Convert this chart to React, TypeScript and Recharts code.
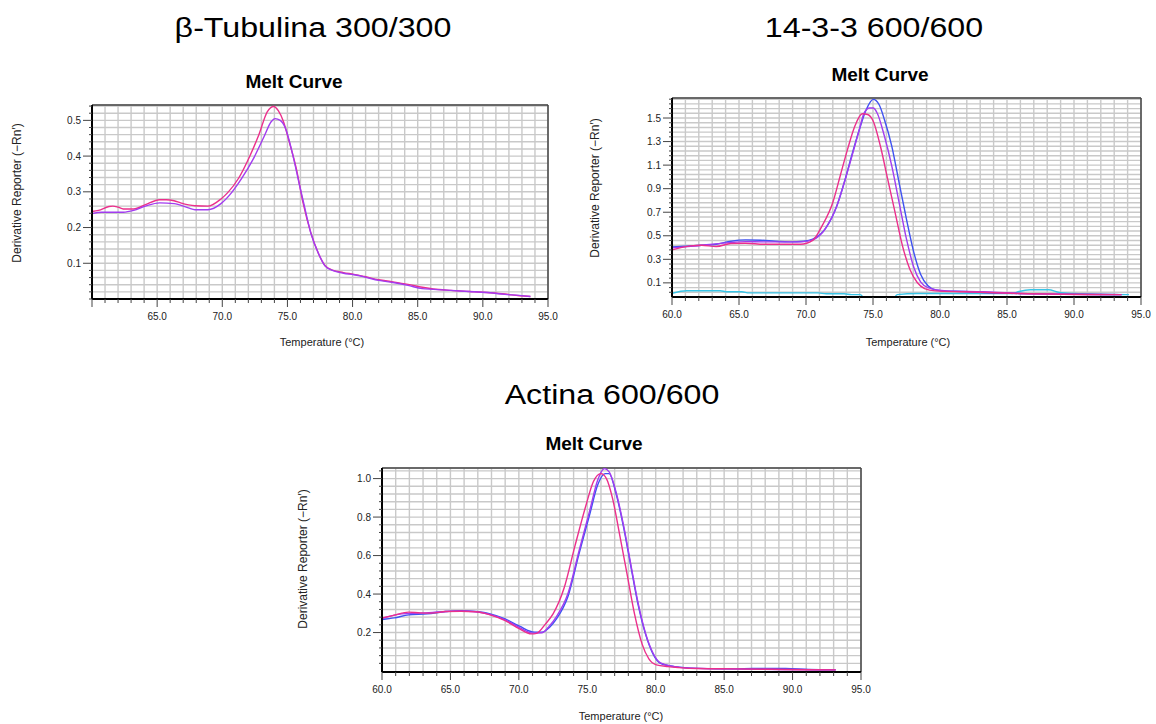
import React from 'react';
import { LineChart, Line, XAxis, YAxis, CartesianGrid, ReferenceLine } from 'recharts';

type Pt = [number, number];

// ---------- β-Tubulina 300/300 ----------
const tubPink: Pt[] = [
  [60, 0.245], [60.5, 0.248], [61.3, 0.259], [61.6, 0.26], [62, 0.257], [62.4, 0.252], [63.2, 0.252],
  [64.1, 0.264], [65.2, 0.278], [65.7, 0.278], [66.3, 0.275], [66.8, 0.269], [67.9, 0.261], [68.9, 0.26],
  [69.9, 0.28], [70.4, 0.297], [71.25, 0.338], [72.1, 0.399], [72.8, 0.459], [73.45, 0.524], [73.95, 0.539],
  [74.3, 0.527], [74.7, 0.496], [75.1, 0.445], [75.7, 0.362], [76.2, 0.269], [76.8, 0.185], [77.35, 0.13],
  [77.9, 0.093], [78.45, 0.081], [79.3, 0.074], [80.1, 0.069], [80.9, 0.063], [82, 0.054], [83.1, 0.048],
  [84.25, 0.041], [85.35, 0.033], [86.2, 0.028], [87.55, 0.024], [88.95, 0.021], [90.3, 0.018], [91.7, 0.014],
  [92.8, 0.009], [93.65, 0.007],
];
const tubPurple: Pt[] = [
  [60, 0.239], [60.75, 0.243], [62.4, 0.243], [63.2, 0.248], [64.1, 0.26], [65.2, 0.269], [66.3, 0.267],
  [67.4, 0.255], [67.9, 0.25], [68.9, 0.25], [69.9, 0.267], [70.7, 0.297], [71.5, 0.338], [72.35, 0.39],
  [73.2, 0.454], [73.75, 0.496], [74.05, 0.505], [74.45, 0.5], [74.85, 0.478], [75.4, 0.405], [75.95, 0.315],
  [76.25, 0.268], [76.8, 0.184], [77.35, 0.13], [77.9, 0.092], [78.45, 0.08], [79.3, 0.072], [80.1, 0.068],
  [80.9, 0.062], [82, 0.052], [83.1, 0.046], [84.25, 0.038], [85.35, 0.029], [86.2, 0.027], [87.55, 0.024],
  [88.95, 0.021], [90.3, 0.018], [91.7, 0.013], [92.8, 0.01], [93.65, 0.007],
];

// ---------- 14-3-3 600/600 ----------
const p14Blue: Pt[] = [
  [60, 0.405], [61.4, 0.414], [62.2, 0.42], [63.3, 0.428], [64.4, 0.454], [65.5, 0.465], [66.6, 0.462],
  [67.7, 0.454], [68.75, 0.448], [69.85, 0.454], [70.5, 0.471], [71.5, 0.569], [72.3, 0.753], [72.85, 0.95],
  [73.4, 1.178], [73.95, 1.39], [74.5, 1.573], [75.02, 1.658], [75.45, 1.615], [75.85, 1.488], [76.4, 1.262],
  [76.95, 0.95], [77.5, 0.64], [78.05, 0.357], [78.55, 0.174], [79.1, 0.075], [79.65, 0.041], [80.5, 0.03],
  [81.8, 0.027], [83.2, 0.018], [85.9, 0.01], [88.65, 0.004], [93.55, 0.0],
];
const p14Purple: Pt[] = [
  [60, 0.397], [61.4, 0.41], [64.1, 0.44], [65.5, 0.45], [66.85, 0.448], [69.6, 0.448], [70.5, 0.465],
  [71.5, 0.569], [72.3, 0.753], [72.85, 0.95], [73.4, 1.164], [73.95, 1.39], [74.35, 1.545], [74.75, 1.585],
  [75.02, 1.585], [75.3, 1.545], [75.85, 1.347], [76.4, 1.093], [76.95, 0.782], [77.5, 0.471], [78.05, 0.23],
  [78.55, 0.108], [79.1, 0.06], [80.5, 0.032], [83.2, 0.024], [85.9, 0.01], [93.55, 0.0],
];
const p14Pink: Pt[] = [
  [60, 0.38], [61.4, 0.414], [62.2, 0.42], [63.3, 0.409], [64.4, 0.434], [65.5, 0.437], [66.85, 0.428],
  [69.6, 0.428], [70.5, 0.461], [71.2, 0.584], [72.0, 0.782], [72.55, 1.008], [73.1, 1.234], [73.65, 1.432],
  [74.2, 1.536], [74.6, 1.53], [75.02, 1.473], [75.55, 1.262], [76.1, 0.979], [76.65, 0.697], [77.2, 0.414],
  [77.75, 0.216], [78.3, 0.103], [78.85, 0.052], [79.65, 0.032], [81.8, 0.024], [85.9, 0.01], [93.55, 0.0],
];
const p14Cyan: Pt[] = [
  [60, 0.012], [61.1, 0.033], [63.6, 0.033], [64.1, 0.024], [65.2, 0.024], [65.75, 0.015], [70.9, 0.015],
  [71.5, 0.007], [72.85, 0.007], [73.4, 0.0], [74.05, 0.0], [74.4, -0.035], [76.5, -0.035], [76.8, 0.0],
  [78.3, 0.01], [85.4, 0.01], [85.9, 0.027], [86.75, 0.041], [88.1, 0.041], [88.9, 0.018], [90.0, 0.01],
  [94.1, 0.0],
];

// ---------- Actina 600/600 ----------
const actPink: Pt[] = [
  [60, 0.276], [60.6, 0.285], [61.45, 0.301], [61.95, 0.306], [62.8, 0.302], [63.6, 0.301], [64.65, 0.309],
  [65.75, 0.311], [66.85, 0.308], [67.9, 0.292], [69.0, 0.262], [70.05, 0.219], [70.9, 0.193], [71.3, 0.196],
  [71.95, 0.245], [72.5, 0.297], [73.3, 0.43], [74.1, 0.65], [74.9, 0.86], [75.45, 0.985], [76.0, 1.026],
  [76.4, 1.0], [76.85, 0.896], [77.35, 0.714], [77.9, 0.506], [78.45, 0.297], [79.0, 0.141], [79.5, 0.063],
  [80.05, 0.032], [80.9, 0.023], [81.7, 0.018], [83.05, 0.013], [85.75, 0.011], [88.45, 0.009], [91.15, 0.007],
  [93.15, 0.006],
];
const actBlue: Pt[] = [
  [60, 0.268], [60.9, 0.276], [61.95, 0.292], [63.3, 0.297], [64.65, 0.309], [65.75, 0.314], [66.85, 0.309],
  [67.9, 0.297], [69.0, 0.271], [70.05, 0.233], [71.15, 0.202], [71.7, 0.202], [72.25, 0.228], [72.75, 0.271],
  [73.6, 0.39], [74.4, 0.61], [75.2, 0.82], [75.75, 0.965], [76.3, 1.026], [76.6, 1.026], [77.1, 0.922],
  [77.65, 0.748], [78.15, 0.557], [78.7, 0.349], [79.25, 0.193], [79.8, 0.089], [80.35, 0.04], [81.4, 0.023],
  [83.05, 0.014], [85.75, 0.011], [87.1, 0.013], [89.5, 0.013], [91.15, 0.008], [93.15, 0.006],
];
const actPurple: Pt[] = [
  [60, 0.273], [61.45, 0.297], [62.8, 0.301], [64.65, 0.309], [65.75, 0.312], [66.85, 0.308], [67.9, 0.294],
  [69.0, 0.266], [70.05, 0.226], [71.0, 0.197], [71.7, 0.199], [72.25, 0.236], [72.75, 0.283], [73.6, 0.405],
  [74.4, 0.625], [75.2, 0.84], [75.75, 0.99], [76.25, 1.052], [76.6, 1.035], [77.1, 0.93], [77.65, 0.757],
  [78.15, 0.566], [78.7, 0.358], [79.25, 0.198], [79.8, 0.094], [80.35, 0.042], [81.4, 0.023], [83.05, 0.014],
  [93.15, 0.006],
];

// ---------- axis ticks ----------
const X_GRID = [60, 61, 62, 63, 64, 65, 66, 67, 68, 69, 70, 71, 72, 73, 74, 75, 76, 77, 78, 79, 80, 81, 82, 83,
  84, 85, 86, 87, 88, 89, 90, 91, 92, 93, 94, 95];
const X_LABELS_ALL = [60, 65, 70, 75, 80, 85, 90, 95];
const X_LABELS_TUB = [65, 70, 75, 80, 85, 90, 95];

const steps = (start: number, step: number, count: number) =>
  Array.from({ length: count }, (_, i) => Math.round((start + i * step) * 1000) / 1000);

const Y_GRID_TUB = steps(0, 0.02, 28);
const Y_LABELS_TUB = [0.1, 0.2, 0.3, 0.4, 0.5];
const Y_GRID_P14 = steps(0.02, 0.04, 42);
const Y_LABELS_P14 = [0.1, 0.3, 0.5, 0.7, 0.9, 1.1, 1.3, 1.5];
const Y_GRID_ACT = steps(0.04, 0.04, 26);
const Y_LABELS_ACT = [0.2, 0.4, 0.6, 0.8, 1.0];

const PINK = '#ec2f8c';
const PURPLE = '#a23cf0';
const BLUE = '#3f52f2';
const CYAN = '#38c4e6';

const FONT = '"Liberation Sans", Arial, sans-serif';

const toData = (pts: Pt[]) => pts.map(([x, y]) => ({ x, y }));

type Series = { name: string; color: string; pts: Pt[] };

const has = (list: number[], v: number) => list.some((l) => Math.abs(l - v) < 1e-6);

function MeltChart(props: {
  left: number; top: number; plotW: number; plotH: number;
  yDomain: [number, number]; yGrid: number[]; yLabels: number[]; xLabels: number[];
  series: Series[];
}) {
  const { left, top, plotW, plotH, yDomain, yGrid, yLabels, xLabels, series } = props;
  const padL = 90, padT = 10, padR = 10, axisH = 40;
  const W = plotW + padL + padR;
  const H = plotH + padT + axisH;

  const renderXTick = (p: any) => {
    const v = p.payload.value;
    const major = v % 5 === 0;
    return (
      <g>
        <line x1={p.x} x2={p.x} y1={p.y} y2={p.y + (major ? 8 : 4)} stroke="#444" strokeWidth={1} />
        {has(xLabels, v) && (
          <text x={p.x} y={p.y + 21} textAnchor="middle" fontSize={10} fill="#222" fontFamily={FONT}>
            {v.toFixed(1)}
          </text>
        )}
      </g>
    );
  };
  const renderYTick = (p: any) => {
    const v = p.payload.value;
    const major = has(yLabels, v);
    return (
      <g>
        <line x1={p.x} x2={p.x - (major ? 9 : 3)} y1={p.y} y2={p.y} stroke="#444" strokeWidth={1} />
        {major && (
          <text x={p.x - 11} y={p.y + 3.5} textAnchor="end" fontSize={10} fill="#222" fontFamily={FONT}>
            {v.toFixed(1)}
          </text>
        )}
      </g>
    );
  };

  return (
    <div style={{ position: 'absolute', left: left - padL, top: top - padT }}>
      <LineChart width={W} height={H} margin={{ top: padT, right: padR, left: 0, bottom: 0 }}>
        <CartesianGrid stroke="#c9c9c9" strokeWidth={1.4} />
        <XAxis dataKey="x" type="number" domain={[60, 95]} ticks={X_GRID} interval={0} allowDataOverflow
          height={axisH} tickSize={0} tickMargin={0} tickLine={false}
          axisLine={{ stroke: '#000', strokeWidth: 2 }} tick={renderXTick} />
        <YAxis type="number" domain={yDomain} ticks={yGrid} interval={0} allowDataOverflow
          width={padL} tickSize={0} tickMargin={0} tickLine={false}
          axisLine={{ stroke: '#000', strokeWidth: 2 }} tick={renderYTick} />
        <ReferenceLine y={yDomain[1]} stroke="#444" strokeWidth={1.5} />
        <ReferenceLine x={95} stroke="#444" strokeWidth={1.5} />
        {series.map((s) => (
          <Line key={s.name} data={toData(s.pts)} dataKey="y" type="monotone" stroke={s.color}
            strokeWidth={1.4} dot={false} isAnimationActive={false} />
        ))}
      </LineChart>
    </div>
  );
}

const Y_TITLE = 'Derivative Reporter (\u2212Rn\u2032)';
const X_TITLE = 'Temperature (\u00B0C)';

export default function App() {
  return (
    <div style={{ position: 'absolute', left: 0, top: 0, width: 1156, height: 724, background: '#fff', overflow: 'hidden' }}>
      <MeltChart left={92} top={105} plotW={456} plotH={194} yDomain={[0, 0.543]}
        yGrid={Y_GRID_TUB} yLabels={Y_LABELS_TUB} xLabels={X_LABELS_TUB}
        series={[{ name: 'pink', color: PINK, pts: tubPink }, { name: 'purple', color: PURPLE, pts: tubPurple }]} />
      <MeltChart left={672} top={98} plotW={469} plotH={199} yDomain={[-0.02, 1.67]}
        yGrid={Y_GRID_P14} yLabels={Y_LABELS_P14} xLabels={X_LABELS_ALL}
        series={[
          { name: 'cyan', color: CYAN, pts: p14Cyan },
          { name: 'blue', color: BLUE, pts: p14Blue },
          { name: 'purple', color: PURPLE, pts: p14Purple },
          { name: 'pink', color: PINK, pts: p14Pink },
        ]} />
      <MeltChart left={382} top={468} plotW={479} plotH={204} yDomain={[-0.005, 1.055]}
        yGrid={Y_GRID_ACT} yLabels={Y_LABELS_ACT} xLabels={X_LABELS_ALL}
        series={[
          { name: 'blue', color: BLUE, pts: actBlue },
          { name: 'purple', color: PURPLE, pts: actPurple },
          { name: 'pink', color: PINK, pts: actPink },
        ]} />
      <svg width={1156} height={724} style={{ position: 'absolute', left: 0, top: 0, pointerEvents: 'none' }}>
        <g fontFamily={FONT} fill="#000">
          <text transform="translate(313,37) scale(1.15,1)" textAnchor="middle" fontSize={28}>β-Tubulina 300/300</text>
          <text transform="translate(874,37) scale(1.15,1)" textAnchor="middle" fontSize={28}>14-3-3 600/600</text>
          <text transform="translate(612,404) scale(1.15,1)" textAnchor="middle" fontSize={28}>Actina 600/600</text>

          <text x={294} y={88} textAnchor="middle" fontSize={19} fontWeight="bold">Melt Curve</text>
          <text x={880} y={81} textAnchor="middle" fontSize={19} fontWeight="bold">Melt Curve</text>
          <text x={594} y={450} textAnchor="middle" fontSize={19} fontWeight="bold">Melt Curve</text>

          <text x={322} y={346} textAnchor="middle" fontSize={11} fill="#222">{X_TITLE}</text>
          <text x={908} y={346} textAnchor="middle" fontSize={11} fill="#222">{X_TITLE}</text>
          <text x={621} y={720} textAnchor="middle" fontSize={11} fill="#222">{X_TITLE}</text>

          <text transform="translate(21,193) rotate(-90)" textAnchor="middle" fontSize={12} fill="#222">{Y_TITLE}</text>
          <text transform="translate(599,188) rotate(-90)" textAnchor="middle" fontSize={12} fill="#222">{Y_TITLE}</text>
          <text transform="translate(307,559) rotate(-90)" textAnchor="middle" fontSize={12} fill="#222">{Y_TITLE}</text>
        </g>
      </svg>
    </div>
  );
}
